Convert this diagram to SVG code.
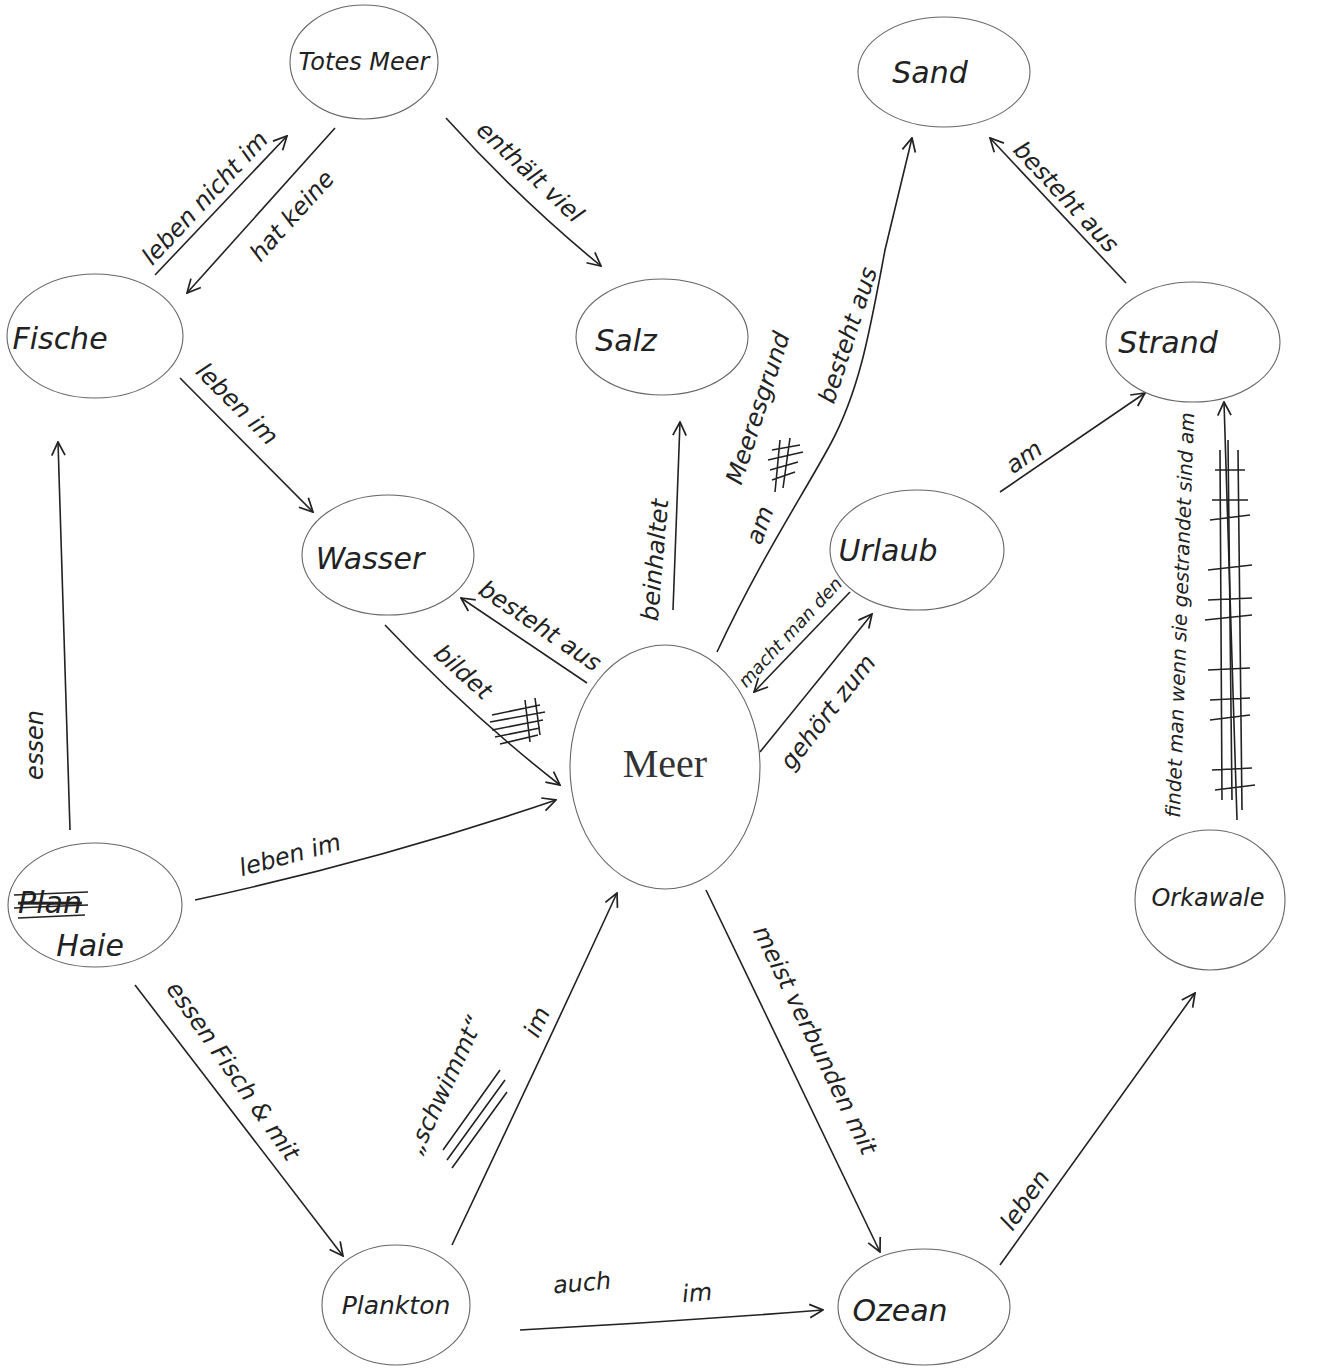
<svg xmlns="http://www.w3.org/2000/svg" width="1319" height="1371" viewBox="0 0 1319 1371">
<defs>
<marker id="ah" viewBox="0 0 12 12" refX="11" refY="6" markerWidth="16" markerHeight="16" markerUnits="userSpaceOnUse" orient="auto">
<path d="M1,1 L11,6 L1,11" fill="none" stroke="#222" stroke-width="1.3"/>
</marker>
<style>
.node ellipse{fill:#fff;stroke:#666;stroke-width:1.1}
.nl{font-family:"DejaVu Sans",sans-serif;font-style:italic;font-size:30px;fill:#222;text-anchor:middle;dominant-baseline:central}
.meer{font-family:"Liberation Serif",serif;font-size:40px;fill:#333;text-anchor:middle;dominant-baseline:central}
.e{fill:none;stroke:#222;stroke-width:1.6;marker-end:url(#ah)}
.lb{font-family:"DejaVu Sans",sans-serif;font-style:italic;font-size:24px;fill:#222;text-anchor:middle;dominant-baseline:central}
.sc{fill:none;stroke:#222;stroke-width:1.6}
</style>
</defs>
<rect width="1319" height="1371" fill="#fff"/>

<g id="connectors">
<path class="e" d="M155,275 L287,136"/>
<path class="e" d="M335,128 L187,293"/>
<path class="e" d="M446,118 Q520,200 601,266"/>
<path class="e" d="M180,378 L313,512"/>
<path class="e" d="M587,683 L461,598"/>
<path class="e" d="M385,625 Q470,715 560,785"/>
<path class="e" d="M673,610 L680,422"/>
<path class="e" d="M717,652 C760,560 800,500 830,445 C860,390 870,330 885,250 L912,138"/>
<path class="e" d="M850,592 L754,692"/>
<path class="e" d="M760,752 L872,614"/>
<path class="e" d="M1000,492 L1145,393"/>
<path class="e" d="M1126,283 L990,138"/>
<path class="e" d="M1237,820 L1224,402"/>
<path class="e" d="M70,830 L58,442"/>
<path class="e" d="M195,900 Q380,860 556,800"/>
<path class="e" d="M135,985 L343,1256"/>
<path class="e" d="M452,1245 Q540,1060 617,893"/>
<path class="e" d="M706,890 L880,1252"/>
<path class="e" d="M520,1330 Q670,1322 823,1310"/>
<path class="e" d="M1000,1265 L1195,993"/>

<g id="labels">
<text class="lb" transform="translate(205,198) rotate(-47)">leben nicht im</text>
<text class="lb" transform="translate(292,216) rotate(-48)">hat keine</text>
<text class="lb" transform="translate(530,172) rotate(43)">enthält viel</text>
<text class="lb" transform="translate(237,404) rotate(45)">leben im</text>
<text class="lb" transform="translate(540,626) rotate(34)">besteht aus</text>
<text class="lb" transform="translate(463,672) rotate(42)">bildet</text>
<text class="lb" transform="translate(655,560) rotate(-85)">beinhaltet</text>
<text class="lb" transform="translate(760,525) rotate(-70)">am</text>
<text class="lb" transform="translate(758,408) rotate(-72)">Meeresgrund</text>
<text class="lb" transform="translate(848,335) rotate(-72)">besteht aus</text>
<text class="lb" style="font-size:18px" transform="translate(790,632) rotate(-47)">macht man den</text>
<text class="lb" transform="translate(828,712) rotate(-52)">gehört zum</text>
<text class="lb" transform="translate(1024,457) rotate(-35)">am</text>
<text class="lb" transform="translate(1066,197) rotate(47)">besteht aus</text>
<text class="lb" style="font-size:20px" transform="translate(1180,615) rotate(-88)">findet man wenn sie gestrandet sind am</text>
<text class="lb" transform="translate(35,745) rotate(-90)">essen</text>
<text class="lb" transform="translate(290,855) rotate(-15)">leben im</text>
<text class="lb" transform="translate(233,1071) rotate(55)">essen Fisch &amp; mit</text>
<text class="lb" transform="translate(445,1085) rotate(-65)">„schwimmt“</text>
<text class="lb" transform="translate(537,1022) rotate(-65)">im</text>
<text class="lb" transform="translate(815,1040) rotate(64)">meist verbunden mit</text>
<text class="lb" transform="translate(582,1283) rotate(-5)">auch</text>
<text class="lb" transform="translate(697,1293) rotate(-5)">im</text>
<text class="lb" transform="translate(1025,1200) rotate(-55)">leben</text>
</g>

<g id="scribbles">
<path class="sc" d="M492,715 L540,705 M490,722 L545,712 M492,730 L543,720 M495,737 L540,728 M500,744 L538,735 M525,700 L530,742 M535,698 L540,735"/>
<path class="sc" d="M772,450 L800,445 M768,460 L803,452 M770,470 L798,462 M772,480 L795,472 M780,440 L775,492 M790,438 L783,488"/>
<path class="sc" d="M1228,440 L1232,800 M1215,470 L1245,470 M1210,520 L1250,515 M1208,570 L1252,565 M1205,620 L1252,615 M1208,670 L1250,668 M1210,720 L1250,715 M1212,770 L1252,768 M1220,450 L1222,800 M1238,450 L1242,810 M1212,500 L1248,500 M1208,600 L1252,598 M1210,700 L1250,698 M1215,790 L1255,785"/>
<path class="sc" d="M443,1150 L500,1070 M447,1160 L505,1080 M452,1168 L507,1092"/>
</g>
</g>

<g id="node-totes-meer" class="node"><ellipse cx="364" cy="62" rx="74" ry="57"/><text class="nl" x="364" y="62" style="font-size:24px">Totes Meer</text></g>
<g id="node-sand" class="node"><ellipse cx="944" cy="72" rx="86" ry="55"/><text class="nl" x="930" y="72">Sand</text></g>
<g id="node-fische" class="node"><ellipse cx="95" cy="336" rx="88" ry="62"/><text class="nl" x="60" y="338">Fische</text></g>
<g id="node-salz" class="node"><ellipse cx="662" cy="337" rx="86" ry="58"/><text class="nl" x="626" y="340">Salz</text></g>
<g id="node-strand" class="node"><ellipse cx="1193" cy="342" rx="87" ry="60"/><text class="nl" x="1168" y="342">Strand</text></g>
<g id="node-wasser" class="node"><ellipse cx="388" cy="555" rx="86" ry="60"/><text class="nl" x="370" y="558">Wasser</text></g>
<g id="node-urlaub" class="node"><ellipse cx="917" cy="550" rx="87" ry="60"/><text class="nl" x="888" y="550">Urlaub</text></g>
<g id="node-meer" class="node"><ellipse cx="665" cy="767" rx="95" ry="122"/><text class="meer" x="665" y="763">Meer</text></g>
<g id="node-haie" class="node"><ellipse cx="95" cy="905" rx="87" ry="62"/><text class="nl" x="50" y="902" style="text-decoration:line-through">Plan</text><path class="sc" d="M14,895 L88,892 M14,908 L88,905 M18,918 L85,915"/><text class="nl" x="90" y="945">Haie</text></g>
<g id="node-orkawale" class="node"><ellipse cx="1210" cy="900" rx="75" ry="70"/><text class="nl" x="1208" y="898" style="font-size:24px">Orkawale</text></g>
<g id="node-plankton" class="node"><ellipse cx="396" cy="1305" rx="74" ry="60"/><text class="nl" x="396" y="1305" style="font-size:25px">Plankton</text></g>
<g id="node-ozean" class="node"><ellipse cx="924" cy="1307" rx="86" ry="58"/><text class="nl" x="900" y="1310">Ozean</text></g>
</svg>
